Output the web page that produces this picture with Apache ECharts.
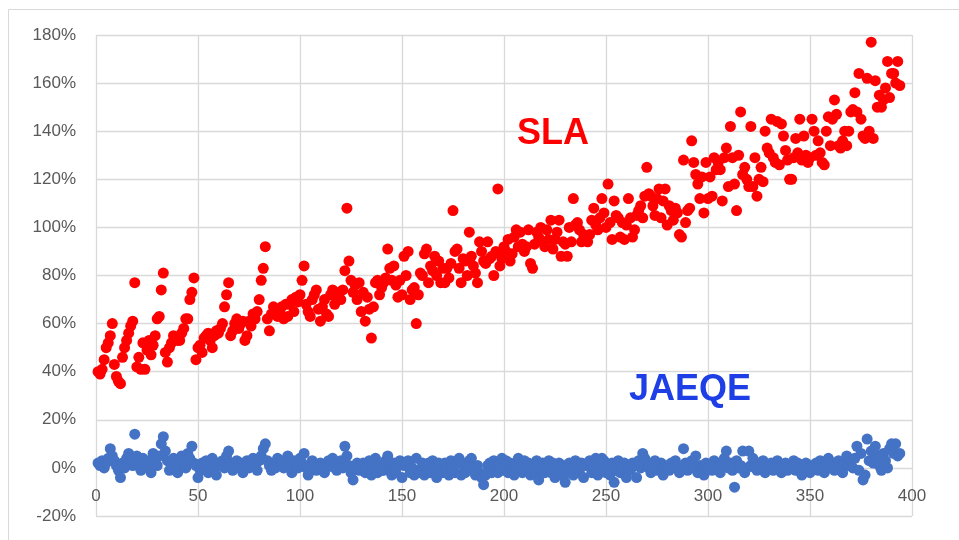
<!DOCTYPE html>
<html>
<head>
<meta charset="utf-8">
<script src="https://cdn.jsdelivr.net/npm/echarts@6/dist/echarts.min.js"></script>
<style>
html,body{margin:0;padding:0;background:#fff;}
#chart{width:959px;height:540px;}
</style>
</head>
<body>
<div id="chart"></div>
<script>
const xStart = 1;
const xTicks = [0, 50, 100, 150, 200, 250, 300, 350, 400];
const yTicks = [-20, 0, 20, 40, 60, 80, 100, 120, 140, 160, 180];
const seriesNames = ['SLA', 'JAEQE'];

const slaValues = [
  40,39,41,45,50,52,55,60,43,38,
  36,35,46,50,53,56,59,61,77,42,
  46,41,52,41,49,53,47,51,55,62,
  63,74,81,48,44,50,52,55,54,53,
  53,56,58,62,62,70,73,79,45,50,
  51,48,54,55,56,53,50,55,57,56,
  58,60,67,72,77,55,57,60,62,58,
  60,61,53,55,61,59,64,62,65,70,
  78,83,92,62,57,64,67,66,63,65,
  67,62,68,63,68,70,65,71,69,72,
  78,84,68,65,63,70,72,74,66,61,
  67,70,64,63,72,74,68,72,73,70,
  74,82,108,86,78,73,76,70,77,65,
  73,61,71,66,54,67,77,78,72,75,
  77,79,91,83,78,84,76,71,78,72,
  88,80,90,70,74,75,60,72,81,80,
  89,91,77,84,82,88,80,86,77,83,
  77,83,79,85,107,90,91,83,77,87,
  86,80,98,88,84,81,77,94,90,86,
  85,94,87,88,80,90,116,84,87,92,
  90,95,86,89,96,99,92,98,93,90,
  92,99,85,83,93,98,96,100,94,92,
  99,95,103,91,95,98,103,88,94,93,
  88,100,94,112,101,102,99,94,97,96,
  94,97,103,108,101,99,104,112,106,100,
  118,102,95,111,105,104,96,102,95,101,
  112,104,96,99,105,107,109,104,113,125,
  114,113,109,105,112,116,104,111,116,101,
  109,107,103,108,106,97,96,128,102,107,
  108,136,127,122,118,112,121,106,127,112,
  121,113,129,124,127,124,111,129,133,117,
  142,129,118,107,130,148,122,125,120,117,
  142,117,129,113,120,125,119,140,133,131,
  145,129,127,144,126,143,138,132,128,120,
  120,129,137,131,145,128,138,130,127,129,
  145,140,130,136,131,127,126,140,146,134,
  145,153,147,134,133,136,140,134,140,148,
  149,156,148,164,145,138,137,162,140,177,
  137,161,150,155,150,153,158,169,154,164,
  164,160,169,159
];

const jaeqeValues = [
  2,1,3,0,2,4,8,5,3,1,
  -1,-4,2,0,4,6,3,1,14,5,
  2,-1,4,1,0,3,-2,6,2,1,
  5,10,13,7,3,-1,1,4,0,-2,
  2,5,3,0,6,4,9,2,1,-4,
  -1,2,0,3,-2,1,4,0,-3,2,
  1,3,0,5,7,2,-1,1,3,0,
  2,-2,1,3,0,2,4,1,-1,3,
  5,8,10,3,1,-1,2,0,4,1,
  3,0,2,5,1,-2,3,1,0,4,
  2,6,0,-3,1,3,2,-1,0,2,
  1,-2,0,3,1,4,0,-1,2,3,
  0,9,5,1,-2,-5,0,2,-1,1,
  2,-2,1,3,-3,0,4,-2,1,-1,
  -1,3,5,0,-3,2,-2,1,3,-4,
  1,2,3,-2,0,-3,4,-1,-2,2,
  -3,1,2,-2,3,0,-4,2,-1,-2,
  2,-1,-3,3,0,-2,2,4,-3,1,
  -2,2,3,4,-1,-3,1,-2,-4,-7,
  -3,1,2,-2,3,-1,-2,2,4,-1,
  3,-2,2,-1,-3,2,4,0,-2,3,
  -1,2,-3,1,-2,3,-5,-1,2,-2,
  1,3,-2,2,-4,0,2,-3,1,-6,
  -2,2,-1,-3,3,0,-2,2,-4,1,
  2,3,-2,0,4,-3,1,4,3,-2,
  1,-3,2,-6,-1,3,-2,0,2,-4,
  0,-1,2,1,-4,3,0,6,4,2,
  0,-2,1,3,-1,0,2,-3,1,0,
  -1,2,0,3,1,-2,0,8,2,-1,
  1,3,0,5,-2,1,0,-3,2,0,
  1,-1,3,2,0,-2,1,4,7,0,
  2,-1,-8,3,0,1,7,-2,0,7,
  1,4,0,-1,2,0,3,-2,1,0,
  2,-1,0,3,1,-2,0,2,-1,1,
  0,3,-1,2,0,-3,1,2,0,-2,
  1,0,2,-1,3,0,-2,1,4,0,
  2,-1,1,3,0,-2,2,5,1,3,
  0,4,9,-1,6,-5,-3,12,3,7,
  2,9,5,1,-1,6,3,0,8,10,
  6,10,5,6
];

const FONT = '"Liberation Sans", Arial, sans-serif';
const GRID_COLOR = '#d9d9d9';

const chart = echarts.init(document.getElementById('chart'), null, {renderer: 'canvas'});
const option = {
  backgroundColor: '#ffffff',
  animation: false,
  grid: {left: 96, right: 47, top: 35, bottom: 24, containLabel: false, outerBoundsMode: 'none'},
  xAxis: {
    type: 'value',
    min: xTicks[0],
    max: xTicks[xTicks.length - 1],
    interval: xTicks[1] - xTicks[0],
    axisLine: {show: false, onZero: false},
    axisTick: {show: false},
    axisLabel: {color: '#595959', fontSize: 17, fontFamily: FONT, margin: -28},
    splitLine: {show: true, lineStyle: {color: GRID_COLOR, width: 1.3}}
  },
  yAxis: {
    type: 'value',
    min: yTicks[0],
    max: yTicks[yTicks.length - 1],
    interval: yTicks[1] - yTicks[0],
    axisLine: {show: false},
    axisTick: {show: false},
    axisLabel: {color: '#595959', fontSize: 17, fontFamily: FONT, margin: 20, formatter: '{value}%'},
    splitLine: {show: true, lineStyle: {color: GRID_COLOR, width: 1.3}}
  },
  graphic: [
    {type: 'rect', left: 6, top: 7, shape: {width: 1000, height: 1000},
     style: {fill: 'none', stroke: GRID_COLOR, lineWidth: 1}, silent: true, z: -1},
    {type: 'text', x: 553, y: 134, style: {text: seriesNames[0], fill: '#ff0000', font: 'bold 36px ' + FONT, textAlign: 'center', textVerticalAlign: 'middle'}, z: 10},
    {type: 'text', x: 690, y: 390, style: {text: seriesNames[1], fill: '#1f3fe6', font: 'bold 36px ' + FONT, textAlign: 'center', textVerticalAlign: 'middle'}, z: 10}
  ],
  series: [
    {
      name: seriesNames[1],
      type: 'scatter',
      symbol: 'circle',
      symbolSize: 11,
      itemStyle: {color: '#4472c4', opacity: 1},
      data: jaeqeValues.map((v, i) => [xStart + i, v])
    },
    {
      name: seriesNames[0],
      type: 'scatter',
      symbol: 'circle',
      symbolSize: 11,
      itemStyle: {color: '#ff0000', opacity: 1},
      data: slaValues.map((v, i) => [xStart + i, v])
    }
  ]
};
chart.setOption(option);
</script>
</body>
</html>
